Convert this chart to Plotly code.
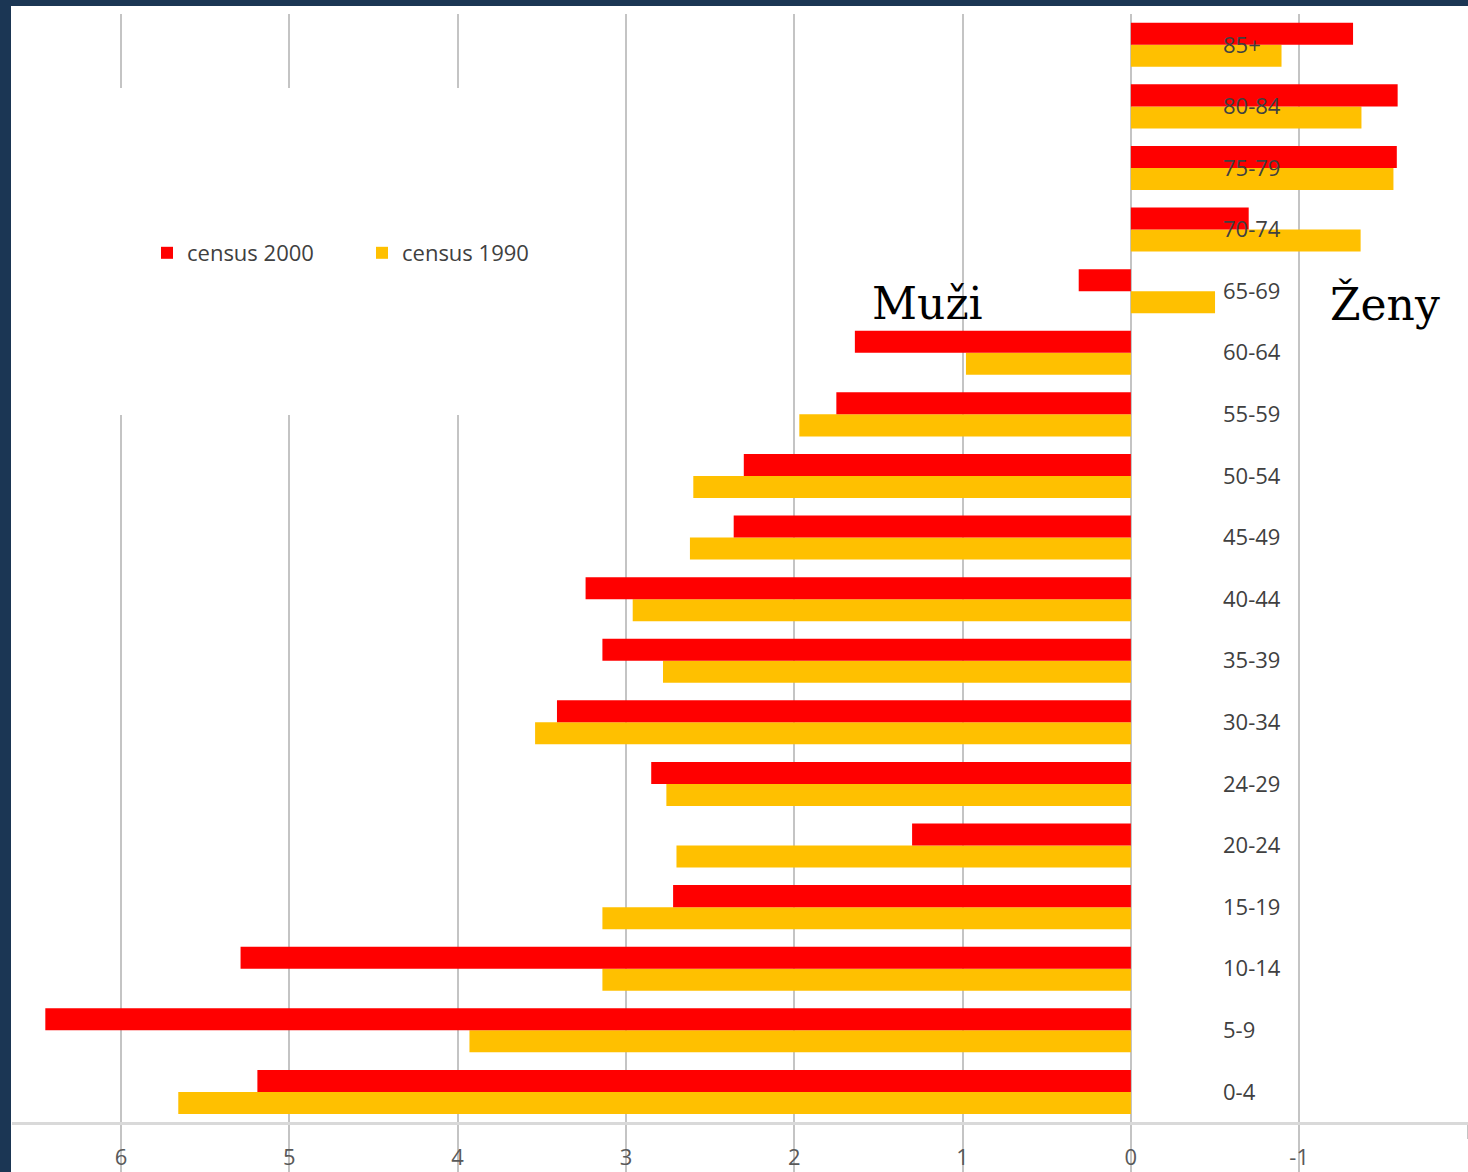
import plotly.graph_objects as go

categories = ["0-4", "5-9", "10-14", "15-19", "20-24", "24-29", "30-34", "35-39", "40-44",
              "45-49", "50-54", "55-59", "60-64", "65-69", "70-74", "75-79", "80-84", "85+"]
census_2000 = [5.19, 6.45, 5.29, 2.72, 1.30, 2.85, 3.41, 3.14, 3.24,
               2.36, 2.30, 1.75, 1.64, 0.31, -0.70, -1.58, -1.585, -1.32]
census_1990 = [5.66, 3.93, 3.14, 3.14, 2.70, 2.76, 3.54, 2.78, 2.96,
               2.62, 2.60, 1.97, 0.98, -0.50, -1.365, -1.56, -1.37, -0.895]
x_ticks = [-2, -1, 0, 1, 2, 3, 4, 5, 6]
x_tick_text = ["-2", "-1", "0", "1", "2", "3", "4", "5", "6"]

W, H = 1468, 1172
ML, MR, MT, MB = 12, 0, 14, 0
PW, PH = W - ML - MR, H - MT - MB
X_RANGE = [6.648, -2.003]
Y_RANGE = [-1.30, 17.5]


def px_x(p):
    return (p - ML) / PW


def px_y(p):
    return (H - MB - p) / PH


def data_x(p):
    return X_RANGE[0] + (X_RANGE[1] - X_RANGE[0]) * px_x(p)


def data_y(p):
    return Y_RANGE[0] + (Y_RANGE[1] - Y_RANGE[0]) * px_y(p)


fig = go.Figure()
fig.add_trace(go.Bar(y=categories, x=census_1990, orientation="h", name="census 1990",
                     marker=dict(color="#FFC000", line=dict(width=0)), legendrank=2))
fig.add_trace(go.Bar(y=categories, x=census_2000, orientation="h", name="census 2000",
                     marker=dict(color="#FF0000", line=dict(width=0)), legendrank=1))

font_main = "Open Sans, Arial, sans-serif"

fig.update_layout(
    width=W, height=H,
    margin=dict(l=ML, r=MR, t=MT, b=MB, pad=0),
    paper_bgcolor="#1b3654",
    plot_bgcolor="white",
    barmode="group",
    bargap=0.285,
    bargroupgap=0,
    showlegend=True,
    legend=dict(orientation="h", x=px_x(147), y=px_y(253), xanchor="left", yanchor="middle",
                bgcolor="rgba(0,0,0,0)", font=dict(family=font_main, size=22, color="#404040"),
                entrywidth=170, traceorder="normal"),
    xaxis=dict(range=X_RANGE, tickvals=x_ticks, ticktext=x_tick_text,
               showgrid=True, gridcolor="#c4c4c4", gridwidth=1.5, zeroline=False,
               anchor="free", position=px_y(1123),
               showline=True, linecolor="#d9d9d9", linewidth=3,
               ticks="outside", ticklen=14, tickcolor="#c4c4c4", tickwidth=1.5,
               tickfont=dict(family=font_main, size=22, color="#595959")),
    yaxis=dict(type="category", categoryorder="array", categoryarray=categories,
               range=Y_RANGE, showgrid=False, zeroline=False, showline=False,
               anchor="free", side="right", position=px_x(1222), ticks="",
               tickfont=dict(family=font_main, size=22, color="#404040")),
    shapes=[
        dict(type="rect", xref="paper", yref="paper", x0=px_x(11), x1=1.0, y0=0, y1=px_y(6),
             fillcolor="white", line=dict(width=0), layer="below"),
        dict(type="rect", xref="x", yref="y", x0=X_RANGE[0], x1=data_x(560),
             y0=data_y(415), y1=data_y(88),
             fillcolor="white", line=dict(width=0), layer="between"),
    ],
    annotations=[
        dict(text="Muži", xref="paper", yref="paper", x=px_x(927), y=px_y(304), showarrow=False,
             font=dict(family="DejaVu Serif", size=44, color="black"), xanchor="center", yanchor="middle"),
        dict(text="Ženy", xref="paper", yref="paper", x=px_x(1385), y=px_y(304), showarrow=False,
             font=dict(family="DejaVu Serif", size=44, color="black"), xanchor="center", yanchor="middle"),
    ],
)

fig.write_html(
    "out.html",
    config={"displayModeBar": False},
    post_script="document.body.style.margin='0';document.body.style.padding='0';"
                "document.body.style.background='#1b3654';",
)
